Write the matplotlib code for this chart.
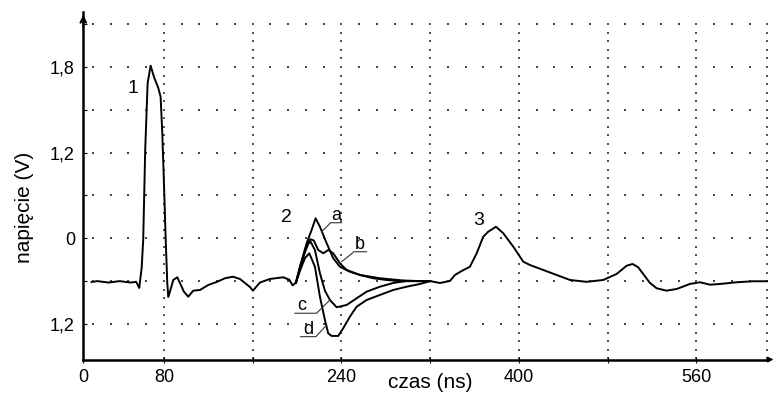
import matplotlib
matplotlib.use("Agg")
import matplotlib.pyplot as plt
import numpy as np

plt.rcParams['font.family'] = ['Liberation Sans', 'DejaVu Sans']

# wspólny przebieg przed odbiciem 2 (czas ns, napięcie V)
pre_t = [14.8, 20, 30, 40, 50, 55, 57.7, 59.9, 61.3, 63.1, 65.3, 68.0, 71.0, 74.9, 77.0,
         78.5, 80.0, 81.5, 83.0, 83.9, 85.4, 88.4, 92.0, 94.4, 98.0, 101.9, 106.4, 112.5,
         120.0, 127.5, 135, 142.2, 148.5, 157.5, 160.2, 166.5, 175.5, 187.5, 193, 196, 199]
pre_v = [0.294, 0.30, 0.29, 0.30, 0.29, 0.295, 0.252, 0.392, 0.588, 1.218, 1.688, 1.809, 1.730,
         1.653, 1.590, 1.337, 0.987, 0.609, 0.287, 0.189, 0.226, 0.308, 0.327, 0.287, 0.226,
         0.191, 0.233, 0.238, 0.273, 0.294, 0.32, 0.331, 0.315, 0.259, 0.233, 0.29, 0.315,
         0.327, 0.31, 0.27, 0.29]

# cztery warianty odbicia 2
a_t = [199, 202.6, 208.6, 213.1, 216.7, 220.6, 226.7, 232.6, 238.6, 247.6, 256.7, 268.7, 280.7, 292.7, 310, 320]
a_v = [0.29, 0.40, 0.565, 0.658, 0.740, 0.681, 0.565, 0.460, 0.401, 0.366, 0.343, 0.320, 0.308, 0.30, 0.30, 0.30]
b_t = [199, 202.6, 208.6, 212, 215, 219.1, 223.6, 228.1, 232.6, 238.6, 244.7, 256.7, 274.7, 295, 310, 320]
b_v = [0.29, 0.40, 0.55, 0.593, 0.585, 0.518, 0.495, 0.518, 0.495, 0.425, 0.378, 0.343, 0.320, 0.305, 0.30, 0.30]
c_t = [199, 203, 207, 210, 212.2, 216.1, 220.6, 225.1, 229.6, 235.7, 244.7, 253.7, 262.7, 274.7, 286.7, 298.8, 310, 320]
c_v = [0.29, 0.40, 0.50, 0.56, 0.576, 0.518, 0.355, 0.233, 0.168, 0.117, 0.133, 0.180, 0.226, 0.261, 0.287, 0.301, 0.30, 0.30]
d_t = [199, 203, 207, 211.0, 216.1, 220.6, 225.1, 228.1, 231.2, 237.1, 241.6, 247.6, 253.7, 262.7, 274.7, 286.7, 298.8, 310.8, 320]
d_v = [0.29, 0.38, 0.46, 0.495, 0.401, 0.191, 0.028, -0.066, -0.084, -0.084, -0.030, 0.051, 0.121, 0.168, 0.203, 0.238, 0.261, 0.28, 0.30]

# wspólny przebieg po odbiciu 2
post_t = [320, 328.8, 337.8, 342.3, 348.4, 355.8, 361.9, 367.8, 372.3, 379.3, 385.9, 394.9, 403.9,
          409.9, 421.9, 434.0, 446.0, 461.0, 476.0, 488.0, 497.1, 502.5, 507.5, 512.0, 518.1,
          524.1, 533.1, 542.2, 554.1, 563.2, 572.2, 581.2, 596.2, 611.2, 623.8]
post_v = [0.30, 0.287, 0.301, 0.343, 0.371, 0.401, 0.495, 0.611, 0.646, 0.681, 0.635, 0.541, 0.436,
          0.413, 0.378, 0.343, 0.308, 0.295, 0.308, 0.350, 0.408, 0.420, 0.397, 0.350, 0.287,
          0.250, 0.233, 0.245, 0.280, 0.292, 0.275, 0.280, 0.292, 0.299, 0.299]

x_ticks = [7.3, 80, 160, 240, 320, 400, 480, 560]
x_labels = ['0', '80', '', '240', '', '400', '', '560']
y_ticks = [0, 0.3, 0.6, 0.9, 1.2, 1.5, 1.8, 2.1]
y_labels = ['1,2', '', '0', '', '1,2', '', '1,8', '']

x_min, x_max = 7.3, 624.5
y_min, y_max = -0.249, 2.185

fig = plt.figure(figsize=(7.77, 3.94), dpi=100)
ax = fig.add_axes([83.3 / 777, 34.5 / 394, (768 - 83.3) / 777, 347.5 / 394])
ax.set_xlim(x_min, x_max)
ax.set_ylim(y_min, y_max)

# kropkowana siatka
dot_x = np.arange(16, x_max, 16)
for yv in y_ticks:
    ax.scatter(dot_x, np.full(len(dot_x), yv), s=1.5, marker='s', color='#444444', linewidths=0, zorder=1)
dot_y = np.arange(-0.24, 2.11, 0.06)
for xv in [80, 160, 240, 320, 400, 480, 560, 624]:
    ax.scatter(np.full(len(dot_y), xv), dot_y, s=1.3, marker='s', color='#555555', linewidths=0, zorder=1)

lw = 1.4
ax.plot(pre_t, pre_v, color='black', lw=lw, zorder=3)
for t, v in [(a_t, a_v), (b_t, b_v), (c_t, c_v), (d_t, d_v)]:
    ax.plot(t, v, color='black', lw=lw, zorder=3)
ax.plot(post_t, post_v, color='black', lw=lw, zorder=3)

# opisy
ax.text(52.3, 1.65, '1', fontsize=14, ha='center', va='center')
ax.text(190.6, 0.747, '2', fontsize=14, ha='center', va='center')
ax.text(363.3, 0.728, '3', fontsize=14, ha='center', va='center')
ax.text(235.0, 0.763, 'a', fontsize=13, ha='center', va='center')
ax.text(256.7, 0.553, 'b', fontsize=13, ha='center', va='center')
ax.text(204.1, 0.126, 'c', fontsize=13, ha='center', va='center')
ax.text(210.1, -0.042, 'd', fontsize=13, ha='center', va='center')
leader_kw = dict(color='#333333', lw=0.8, zorder=4)
ax.plot([240.2, 230.3, 222.1], [0.709, 0.709, 0.646], **leader_kw)
ax.plot([262.7, 251.3, 240.2], [0.506, 0.506, 0.436], **leader_kw)
ax.plot([198.1, 217.6, 229.6], [0.075, 0.075, 0.168], **leader_kw)
ax.plot([203.2, 217.0, 226.7], [-0.089, -0.089, -0.007], **leader_kw)

# osie
for s in ['top', 'right']:
    ax.spines[s].set_visible(False)
for s in ['left', 'bottom']:
    ax.spines[s].set_linewidth(1.8)
ax.set_xticks(x_ticks)
ax.set_xticklabels(x_labels)
ax.set_yticks(y_ticks)
ax.set_yticklabels(y_labels)
ax.tick_params(axis='x', direction='inout', length=5, width=0.8, pad=4, labelsize=13)
ax.tick_params(axis='y', direction='in', length=3, width=0.8, pad=6, labelsize=13)
ax.annotate('', xy=(0, 1.0), xytext=(0, 0.95), xycoords='axes fraction',
            arrowprops=dict(arrowstyle='->', lw=1.5, color='black'))
ax.annotate('', xy=(1.012, 0), xytext=(0.995, 0), xycoords='axes fraction',
            arrowprops=dict(arrowstyle='-|>', lw=1.0, color='black', mutation_scale=8))

fig.text(430 / 777, 1 - 383 / 394, 'czas (ns)', fontsize=15, ha='center', va='center')
fig.text(25 / 777, 1 - 207 / 394, 'napięcie (V)', fontsize=15, rotation=90, ha='center', va='center')

fig.savefig('out.png', dpi=100)
